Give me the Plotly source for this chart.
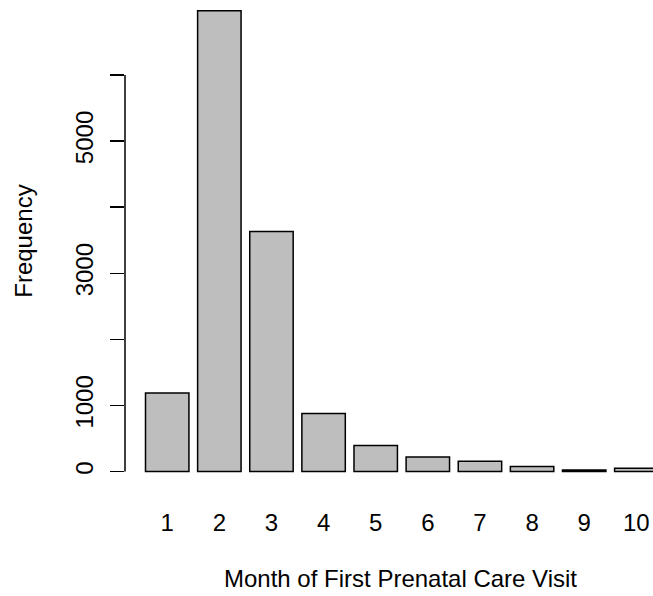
import plotly.graph_objects as go

months = ["1", "2", "3", "4", "5", "6", "7", "8", "9", "10"]
counts = [1190, 6970, 3630, 880, 395, 222, 156, 76, 25, 50]

y_tickvals = [0, 1000, 2000, 3000, 4000, 5000, 6000]
y_ticktext = ["0", "1000", "", "3000", "", "5000", ""]

FONT = "Liberation Sans, Arial, Helvetica, sans-serif"
W, H = 653, 596
ML, MT = 125.4, 0
PLOT_H = 490.4
PLOT_W = W - ML

fig = go.Figure()
fig.add_trace(go.Bar(
    x=months, y=counts,
    marker=dict(color="#BEBEBE", line=dict(color="black", width=1.5)),
    showlegend=False, hoverinfo="skip",
))

fig.update_layout(
    width=W, height=H,
    margin=dict(l=ML, r=0, t=MT, b=H - PLOT_H, pad=0),
    paper_bgcolor="white", plot_bgcolor="white",
    font=dict(family=FONT, size=24, color="black"),
    bargap=0.2 / 1.2,
    template="none",
    xaxis=dict(
        type="category", range=[-0.81, 9.32],
        showgrid=False, zeroline=False, showline=False, ticks="",
        tickfont=dict(size=24), ticklabelstandoff=16,
    ),
    yaxis=dict(
        range=[-278, 7133],
        showgrid=False, zeroline=False, showline=False,
        tickmode="array", tickvals=y_tickvals, ticktext=y_ticktext,
        ticks="outside", ticklen=14.4, tickwidth=1.5, tickcolor="black",
        tickangle=-90, tickfont=dict(size=24), ticklabelstandoff=7,
    ),
    shapes=[dict(
        type="line", xref="paper", yref="y",
        x0=0, x1=0, y0=min(y_tickvals), y1=max(y_tickvals),
        line=dict(color="black", width=1.5),
    )],
    annotations=[
        dict(text="Month of First Prenatal Care Visit", xref="paper", yref="paper",
             x=(401 - ML) / PLOT_W, y=(PLOT_H - 579) / PLOT_H,
             xanchor="center", yanchor="middle", showarrow=False,
             font=dict(size=24)),
        dict(text="Frequency", xref="paper", yref="paper",
             x=(24 - ML) / PLOT_W, y=1 - 241.4 / PLOT_H,
             xanchor="center", yanchor="middle", textangle=-90, showarrow=False,
             font=dict(size=24)),
    ],
)

fig.write_html(
    "out.html",
    config={"displayModeBar": False, "staticPlot": True},
    post_script="document.body.style.margin='0';document.body.style.overflow='hidden';",
)
